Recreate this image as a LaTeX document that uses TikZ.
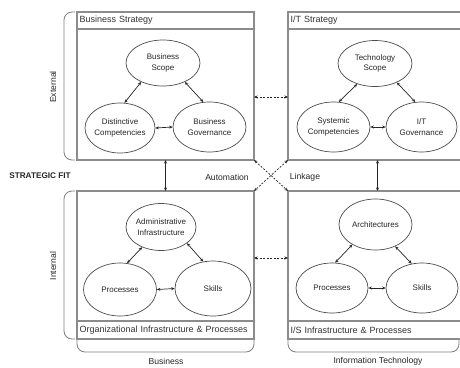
\documentclass[tikz,border=0pt]{standalone}
\usepackage{fontspec}
\setmainfont{Liberation Sans}
\usetikzlibrary{arrows.meta,shapes.geometric}
\begin{document}
\begin{tikzpicture}[x=1pt,y=-1pt,
 boxline/.style={draw=black!45, line width=1.1pt},
 hdr/.style={boxline, rectangle, anchor=north west, minimum width=177pt, minimum height=17pt, inner sep=0pt, outer sep=0pt, text width=172pt, align=left, font=\fontsize{9}{10}\selectfont, text=black!80},
 body/.style={boxline, rectangle, anchor=north west, minimum width=177pt, inner sep=0pt, outer sep=0pt},
 oval/.style={ellipse, draw=black!70, line width=0.7pt, inner xsep=-16pt, inner ysep=-4pt, align=center, font=\fontsize{8}{10.5}\selectfont, text=black!85},
 link/.style={{Stealth[length=3.5pt,width=3pt]}-{Stealth[length=3.5pt,width=3pt]}, draw=black!85, line width=0.7pt},
 dlink/.style={link, dash pattern=on 2pt off 1.5pt},
 brace/.style={draw=black!50, line width=0.8pt, rounded corners=8pt},
 lbl/.style={font=\fontsize{8.6}{10}\selectfont, text=black!85}]
\clip (0,0) rectangle (460,367);
\fill[white] (0,0) rectangle (460,367);
% boxes
\node[hdr] (tlh) at (77,12) {Business Strategy};
\node[body, minimum height=131pt] (tl) at (77,29) {};
\node[hdr] (trh) at (288,12) {I/T Strategy};
\node[body, minimum height=131pt] (tr) at (288,29) {};
\node[body, minimum height=130pt] (bl) at (77,191) {};
\node[hdr, minimum height=18pt] (blf) at (77,321) {Organizational Infrastructure \& Processes};
\node[body, minimum height=130pt] (br) at (288,191) {};
\node[hdr, minimum height=18pt] (brf) at (288,321) {I/S Infrastructure \& Processes};
% ellipses
\node[oval, minimum width=74pt, minimum height=46pt] (bscope) at (163,63) {Business\\Scope};
\node[oval, minimum width=70pt, minimum height=50pt] (dist) at (120,128) {Distinctive\\Competencies};
\node[oval, minimum width=73pt, minimum height=50pt] (bgov) at (209.5,127) {Business\\Governance};
\node[oval, minimum width=74pt, minimum height=46pt] (tscope) at (375,63.5) {Technology\\Scope};
\node[oval, minimum width=73pt, minimum height=50pt] (syscomp) at (333.5,127) {Systemic\\Competencies};
\node[oval, minimum width=71pt, minimum height=50pt] (itgov) at (421.5,127) {I/T\\Governance};
\node[oval, minimum width=70pt, minimum height=47pt] (admin) at (161,227) {Administrative\\Infrastructure};
\node[oval, minimum width=73pt, minimum height=53pt] (proc) at (120,289.5) {Processes};
\node[oval, minimum width=76pt, minimum height=55pt] (skills) at (213,288.5) {Skills};
\node[oval, minimum width=73pt, minimum height=51pt] (arch) at (375.5,224.5) {Architectures};
\node[oval, minimum width=72pt, minimum height=50pt] (proc2) at (332,288) {Processes};
\node[oval, minimum width=72pt, minimum height=50pt] (skills2) at (422,288) {Skills};
% arrows inside boxes
\draw[link] (dist.80) -- (bscope.-139);
\draw[link] (bscope.-41) -- (bgov.104);
\draw[link] (dist.east) -- (bgov.west);
\draw[link] (syscomp.78) -- (tscope.-131);
\draw[link] (tscope.-41) -- (itgov.104);
\draw[link] (syscomp.east) -- (itgov.west);
\draw[link] (proc.75) -- (admin.-133);
\draw[link] (admin.-32) -- (skills.110);
\draw[link] (proc.east) -- (skills.west);
\draw[link] (proc2.83) -- (arch.-139);
\draw[link] (arch.-48) -- (skills2.113);
\draw[link] (proc2.east) -- (skills2.west);
% links between boxes
\coordinate (va) at (165.5,175);
\coordinate (vb) at (377.5,175);
\coordinate (h1) at (270,97);
\coordinate (h2) at (270,258);
\draw[link] (va |- tl.south) -- (va |- bl.north);
\draw[link] (vb |- tr.south) -- (vb |- br.north);
\draw[dlink] (tl.south east) -- (br.north west);
\draw[dlink] (tr.south west) -- (bl.north east);
\draw[dlink] (tl.east |- h1) -- (tr.west |- h1);
\draw[dlink] (bl.east |- h2) -- (br.west |- h2);
% braces
\draw[brace] (75,12) -- (64,12) -- (64,160) -- (75,160);
\draw[brace] (75,191) -- (64,191) -- (64,339) -- (75,339);
\draw[brace] (77,340) -- (77,352) -- (254,352) -- (254,340);
\draw[brace] (288,340) -- (288,352) -- (459,352) -- (459,340);
% labels
\node[lbl, font=\fontsize{8.2}{10}\selectfont\bfseries] (sf) at (40,176) {STRATEGIC FIT};
\node[lbl] (auto) at (227,177) {Automation};
\node[lbl] (lnk) at (305,177) {Linkage};
\node[lbl, rotate=90] (ext) at (53,87) {External};
\node[lbl, rotate=90] (int) at (53,266) {Internal};
\node[lbl] (bus) at (166,361) {Business};
\node[lbl] (itl) at (378,361) {Information Technology};
\end{tikzpicture}
\end{document}
